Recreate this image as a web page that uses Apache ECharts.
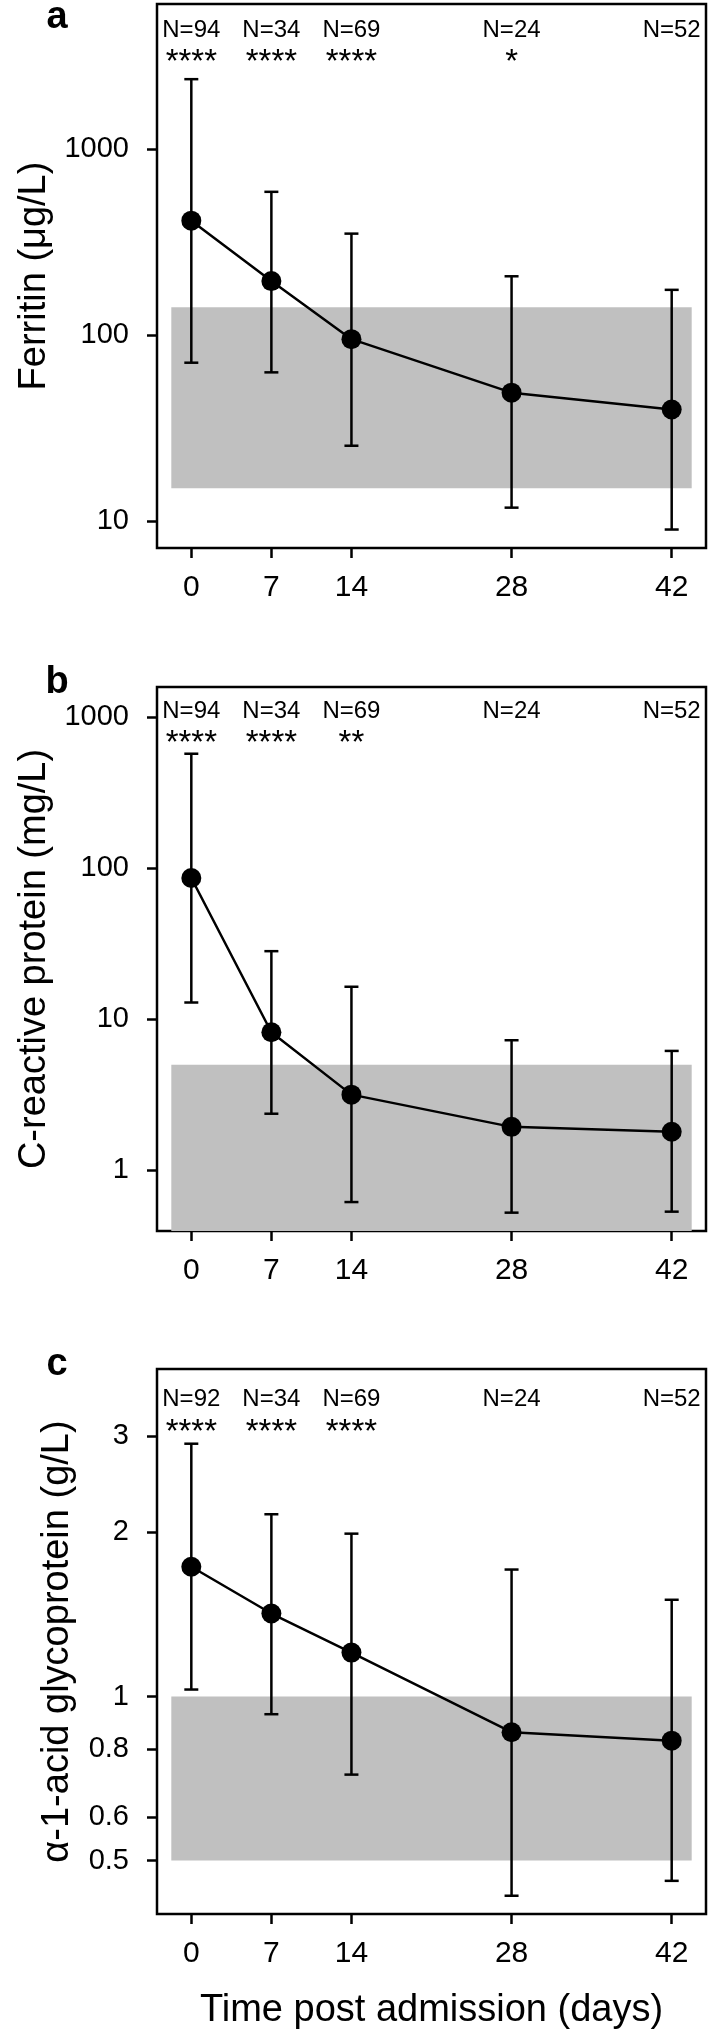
<!DOCTYPE html>
<html><head><meta charset="utf-8">
<script src="https://cdn.jsdelivr.net/npm/echarts@6.0.0/dist/echarts.min.js"></script>
<style>html,body{margin:0;padding:0;background:#fff}#c{width:709px;height:2036px}</style>
</head><body><div id="c"></div>
<script>
// ---------- data ----------
const days = [0, 7, 14, 28, 42];
const xTickValues = [0, 7, 14, 28, 42];

const ferritinMean  = [412, 195, 95, 49, 39.8];
const ferritinUpper = [2376, 589, 351, 207, 175];
const ferritinLower = [71, 63, 25.4, 11.8, 9.0];
const ferritinRef   = [15, 141];
const ferritinTicks = [10, 100, 1000];
const ferritinN     = ['N=94', 'N=34', 'N=69', 'N=24', 'N=52'];
const ferritinStars = ['****', '****', '****', '*', ''];

const crpMean  = [86, 8.2, 3.17, 1.94, 1.80];
const crpUpper = [571, 28.2, 16.4, 7.26, 6.17];
const crpLower = [12.9, 2.37, 0.617, 0.525, 0.533];
const crpRef   = [null, 5];
const crpTicks = [1, 10, 100, 1000];
const crpN     = ['N=94', 'N=34', 'N=69', 'N=24', 'N=52'];
const crpStars = ['****', '****', '**', '', ''];

const agpMean  = [1.73, 1.42, 1.204, 0.860, 0.830];
const agpUpper = [2.91, 2.16, 1.99, 1.71, 1.505];
const agpLower = [1.03, 0.928, 0.719, 0.431, 0.459];
const agpRef   = [0.5, 1];
const agpTicks = [0.5, 0.6, 0.8, 1, 2, 3];
const agpN     = ['N=92', 'N=34', 'N=69', 'N=24', 'N=52'];
const agpStars = ['****', '****', '****', '', ''];

const refDays = [-1.75, 43.75];
const panelLetters = ['a', 'b', 'c'];
const yTitles = ['Ferritin (\u03bcg/L)', 'C-reactive protein (mg/L)', '\u03b1-1-acid glycoprotein (g/L)'];
const xTitle = 'Time post admission (days)';

// ---------- layout ----------
const FONT = "'Liberation Sans', Arial, Helvetica, sans-serif";
const panels = [
  {top: 4,    height: 544, yMin: 7.16,  yMax: 6026, nOff: 26, sOff: 59, letterY: 18,
   mean: ferritinMean, upper: ferritinUpper, lower: ferritinLower, ref: ferritinRef, ticks: ferritinTicks, n: ferritinN, stars: ferritinStars},
  {top: 687,  height: 544, yMin: 0.397, yMax: 1578, nOff: 24, sOff: 57, letterY: 683,
   mean: crpMean, upper: crpUpper, lower: crpLower, ref: crpRef, ticks: crpTicks, n: crpN, stars: crpStars},
  {top: 1369, height: 545, yMin: 0.399, yMax: 3.99, nOff: 30, sOff: 64, letterY: 1365,
   mean: agpMean, upper: agpUpper, lower: agpLower, ref: agpRef, ticks: agpTicks, n: agpN, stars: agpStars}
];

const lg = v => Math.log10(v);
const fmt = v => String(Number(Math.pow(10, v).toPrecision(3)));

const grid = [], xAxis = [], yAxis = [], series = [], graphic = [];

panels.forEach((p, i) => {
  grid.push({left: 157, top: p.top, width: 549, height: p.height, show: true,
    borderColor: '#000', borderWidth: 2.5, backgroundColor: 'transparent'});

  xAxis.push({
    gridIndex: i, type: 'value', min: -3, max: 45,
    axisLine: {show: false, onZero: false}, splitLine: {show: false},
    axisTick: {show: true, customValues: xTickValues, length: 10, lineStyle: {color: '#000', width: 2.5}},
    axisLabel: {customValues: xTickValues, fontSize: 30, color: '#000', margin: 25, fontFamily: FONT},
    name: i === 2 ? xTitle : '', nameLocation: 'middle', nameGap: 78,
    nameTextStyle: {fontSize: 38, color: '#000', fontFamily: FONT}
  });

  const tv = p.ticks.map(lg);
  yAxis.push({
    gridIndex: i, type: 'value', min: lg(p.yMin), max: lg(p.yMax),
    axisLine: {show: false, onZero: false}, splitLine: {show: false},
    axisTick: {show: true, customValues: tv, length: 10, lineStyle: {color: '#000', width: 2.5}},
    axisLabel: {customValues: tv, formatter: fmt, fontSize: 29, color: '#000', margin: 28, fontFamily: FONT},
    name: yTitles[i], nameLocation: 'middle', nameGap: 80,
    nameTextStyle: {fontSize: 38, color: '#000', fontFamily: FONT}
  });

  // reference band
  const lo = p.ref[0] == null ? p.yMin : p.ref[0];
  series.push({
    type: 'custom', xAxisIndex: i, yAxisIndex: i, z: 1, silent: true,
    data: [[refDays[0], refDays[1], lg(lo), lg(p.ref[1])]],
    renderItem: (params, api) => {
      const a = api.coord([api.value(0), api.value(3)]);
      const b = api.coord([api.value(1), api.value(2)]);
      return {type: 'rect', shape: {x: a[0], y: a[1], width: b[0] - a[0], height: b[1] - a[1]},
        style: {fill: '#c0c0c0'}};
    }
  });

  // error bars
  series.push({
    type: 'custom', xAxisIndex: i, yAxisIndex: i, z: 3, silent: true,
    data: days.map((d, j) => [d, lg(p.lower[j]), lg(p.upper[j])]),
    renderItem: (params, api) => {
      const x = api.value(0);
      const l = api.coord([x, api.value(1)]);
      const h = api.coord([x, api.value(2)]);
      const w = 7, st = {stroke: '#000', lineWidth: 2.5};
      return {type: 'group', children: [
        {type: 'line', shape: {x1: l[0], y1: l[1], x2: h[0], y2: h[1]}, style: st},
        {type: 'line', shape: {x1: l[0] - w, y1: l[1], x2: l[0] + w, y2: l[1]}, style: st},
        {type: 'line', shape: {x1: h[0] - w, y1: h[1], x2: h[0] + w, y2: h[1]}, style: st}
      ]};
    }
  });

  // mean line
  series.push({
    type: 'line', xAxisIndex: i, yAxisIndex: i, z: 5, silent: true,
    data: days.map((d, j) => [d, lg(p.mean[j])]),
    symbol: 'circle', symbolSize: 20, showSymbol: true,
    itemStyle: {color: '#000'}, lineStyle: {color: '#000', width: 2.5}
  });

  // N and significance annotations
  series.push({
    type: 'custom', xAxisIndex: i, yAxisIndex: i, z: 6, silent: true,
    data: days.map((d, j) => [d, j]),
    renderItem: (params, api) => {
      const j = params.dataIndex;
      const x = api.coord([api.value(0), lg(p.yMax)])[0];
      const top = params.coordSys.y;
      return {type: 'group', children: [
        {type: 'text', style: {text: p.n[j], x: x, y: top + p.nOff, fill: '#000',
          font: '24px ' + FONT, align: 'center', verticalAlign: 'middle'}},
        {type: 'text', style: {text: p.stars[j], x: x, y: top + p.sOff, fill: '#000',
          font: '33px ' + FONT, align: 'center', verticalAlign: 'middle'}}
      ]};
    }
  });

  graphic.push({type: 'text', x: 57, y: p.letterY,
    style: {text: panelLetters[i], fill: '#000', font: 'bold 38px ' + FONT, align: 'center', verticalAlign: 'middle'}});
});

const chart = echarts.init(document.getElementById('c'), null, {renderer: 'canvas'});
chart.setOption({
  animation: false,
  backgroundColor: '#fff',
  grid, xAxis, yAxis, series, graphic
});
</script>
</body></html>
